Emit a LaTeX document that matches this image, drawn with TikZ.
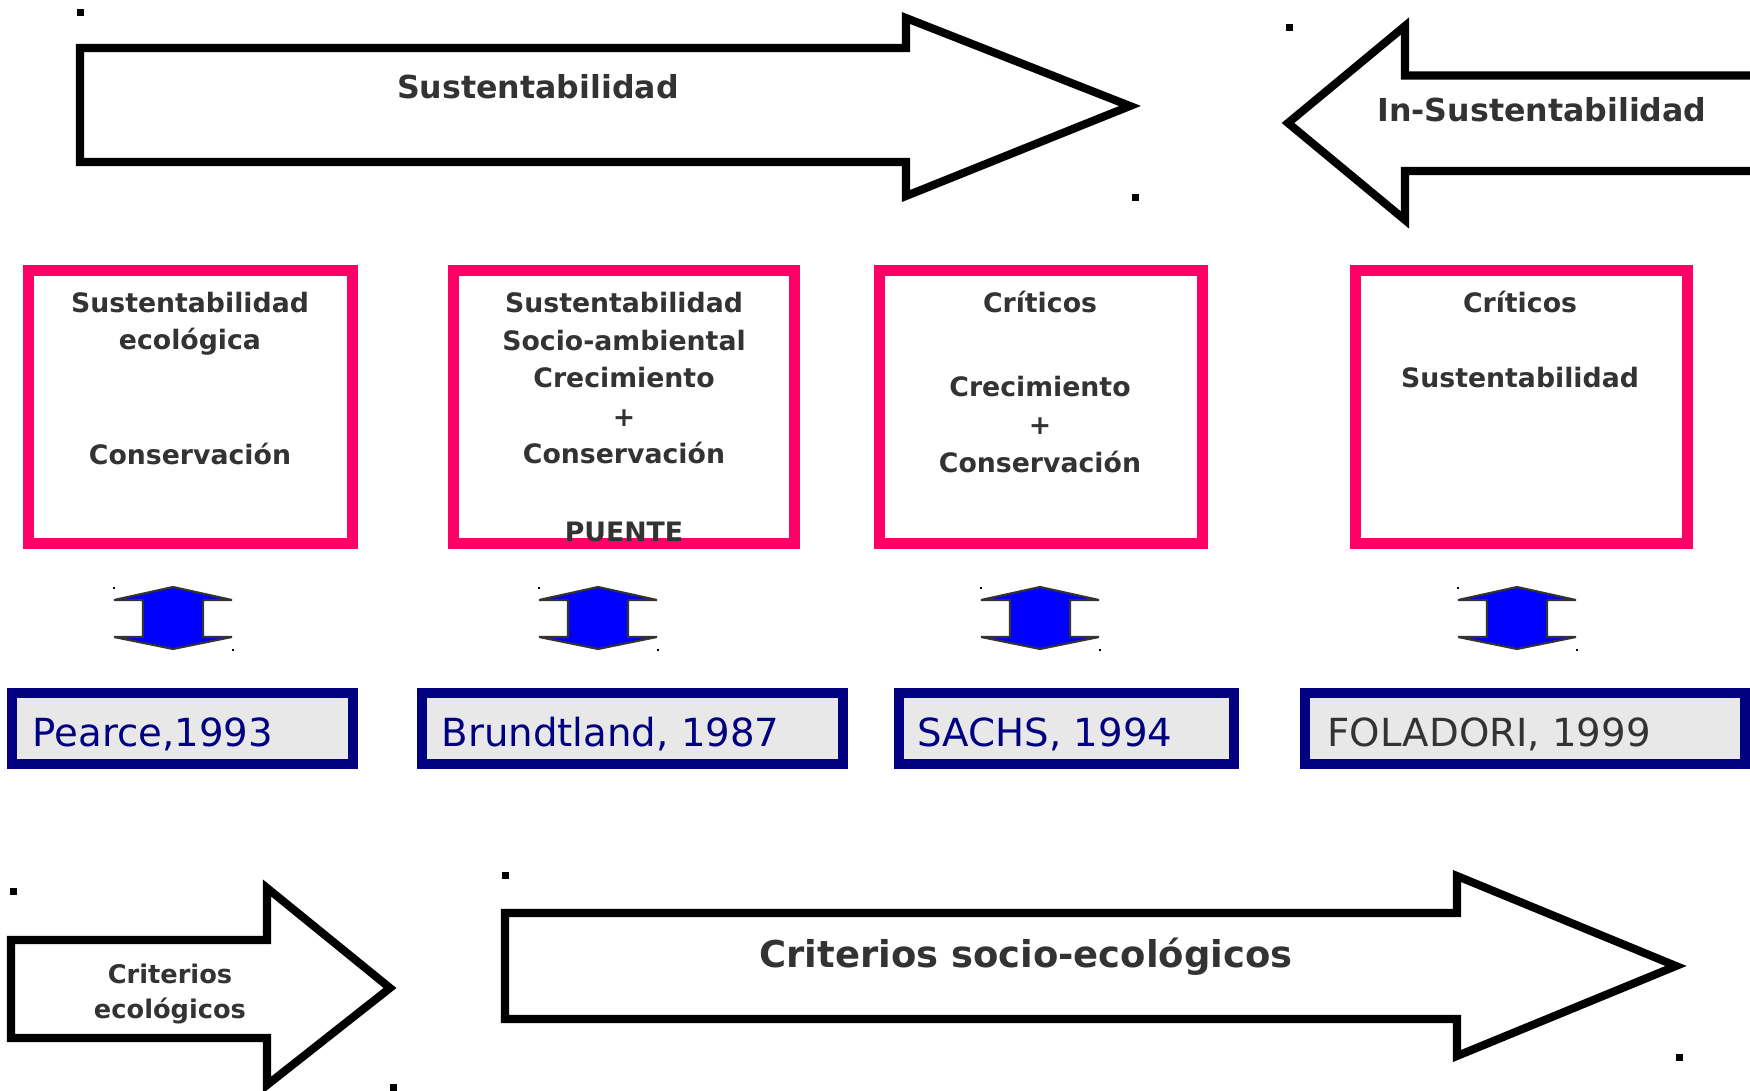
\documentclass[tikz,border=0pt]{standalone}
\usepackage{fontspec}
\setmainfont{DejaVu Sans}
\usepackage{tikz}
\usetikzlibrary{calc}
\definecolor{rosa}{RGB}{255,0,102}
\definecolor{marino}{RGB}{0,0,128}
\definecolor{azul}{RGB}{0,0,255}
\definecolor{gristexto}{RGB}{51,51,51}
\definecolor{grisfondo}{RGB}{232,232,232}
\tikzset{
	flechastyle/.style={draw=black,line width=2.3pt,fill=white,line join=miter},
	rosastyle/.style={rectangle,draw=rosa,line width=3.1pt,fill=white,inner sep=0pt},
	autorstyle/.style={rectangle,draw=marino,line width=2.85pt,fill=grisfondo,inner sep=0pt,minimum height=0.71cm},
	dobleflecha/.style={draw=black!80,line width=0.6pt,line join=bevel,fill=azul},
	textostyle/.style={anchor=base,inner sep=0pt,text=gristexto,font=\bfseries\fontsize{7.6}{9}\selectfont},
	autortexto/.style={anchor=base west,inner sep=0pt,text=marino,font=\fontsize{11}{13}\selectfont},
	puntostyle/.style={fill=black}
}

\begin{document}
\begin{tikzpicture}[x=0.01cm,y=-0.01cm]
	\clip (0,0) rectangle (1750,1091);
	% flechas grandes
	\draw[flechastyle] (80,48)--(906,48)--(906,18)--(1130,106)--(906,196)--(906,162)--(80,162)--cycle;
	\draw[flechastyle] (1770,75.5)--(1405,75.5)--(1405,26)--(1288,123)--(1405,220)--(1405,171)--(1770,171);
	\draw[flechastyle] (11,940)--(267,940)--(267,888)--(390,988)--(267,1085)--(267,1038)--(11,1038)--cycle;
	\draw[flechastyle] (505,913)--(1457,913)--(1457,876)--(1676,966)--(1457,1056)--(1457,1019)--(505,1019)--cycle;
	\node[textostyle,font=\bfseries\fontsize{9}{11}\selectfont] (sust) at (538,99) {Sustentabilidad};
	\node[textostyle,font=\bfseries\fontsize{9}{11}\selectfont] (insust) at (1542,122) {In-Sustentabilidad};
	\node[textostyle,font=\bfseries\fontsize{7.3}{9}\selectfont] (crit) at (170,983) {Criterios};
	\node[textostyle,font=\bfseries\fontsize{7.3}{9}\selectfont] (ecol) at (170,1018) {ecológicos};
	\node[textostyle,font=\bfseries\fontsize{10.5}{12}\selectfont] (socioeco) at (1026,967) {Criterios socio-ecológicos};
	% cajas rosas
	\node[rosastyle,minimum width=3.24cm,minimum height=2.72cm] (eco) at (190.5,407) {};
	\node[rosastyle,minimum width=3.40cm,minimum height=2.72cm] (puente) at (624,407) {};
	\node[rosastyle,minimum width=3.22cm,minimum height=2.72cm] (crit1) at (1041,407) {};
	\node[rosastyle,minimum width=3.32cm,minimum height=2.72cm] (crit2) at (1521.5,407) {};
	\node[textostyle] (eco1) at (190,313) {Sustentabilidad};
	\node[textostyle] (eco2) at (190,350) {ecológica};
	\node[textostyle] (eco3) at (190,465) {Conservación};
	\node[textostyle] (pu1) at (624,313) {Sustentabilidad};
	\node[textostyle] (pu2) at (624,351) {Socio-ambiental};
	\node[textostyle] (pu3) at (624,388) {Crecimiento};
	\node[textostyle] (pu4) at (624,427) {+};
	\node[textostyle] (pu5) at (624,464) {Conservación};
	\node[textostyle] (pu6) at (624,542) {PUENTE};
	\node[textostyle] (cr1) at (1040,313) {Críticos};
	\node[textostyle] (cr2) at (1040,397) {Crecimiento};
	\node[textostyle] (cr3) at (1040,435) {+};
	\node[textostyle] (cr4) at (1040,473) {Conservación};
	\node[textostyle] (cs1) at (1520,313) {Críticos};
	\node[textostyle] (cs2) at (1520,388) {Sustentabilidad};
	% flechas dobles
	\foreach \cx in {173,598,1040,1517}{
		\draw[dobleflecha] (\cx,587)--(\cx+59,600)--(\cx+30,600)--(\cx+30,637)--(\cx+59,637)--(\cx,649)--(\cx-59,637)--(\cx-30,637)--(\cx-30,600)--(\cx-59,600)--cycle;
		\fill (\cx-60,587) rectangle ++(2,2);
		\fill (\cx+59,649) rectangle ++(2,2);
	}
	% cajas de autores
	\node[autorstyle,minimum width=3.41cm] (pearce) at (182.5,728.5) {};
	\node[autorstyle,minimum width=4.21cm] (brundtland) at (632.5,728.5) {};
	\node[autorstyle,minimum width=3.35cm] (sachs) at (1066.5,728.5) {};
	\node[autorstyle,minimum width=4.40cm] (foladori) at (1525,728.5) {};
	\node[autortexto] (tpearce) at (32,746) {Pearce,1993};
	\node[autortexto] (tbrundtland) at (441,746) {Brundtland, 1987};
	\node[autortexto] (tsachs) at (917,746) {SACHS, 1994};
	\node[autortexto,text=gristexto] (tfoladori) at (1327,746) {FOLADORI, 1999};
	% puntos de seleccion
	\foreach \px/\py in {80/13,1135/198,1289/28,13/891,505/875,393/1087,1679/1057}
		\fill[puntostyle] (\px-3.5,\py-3.5) rectangle ++(7,7);
\end{tikzpicture}
\end{document}
